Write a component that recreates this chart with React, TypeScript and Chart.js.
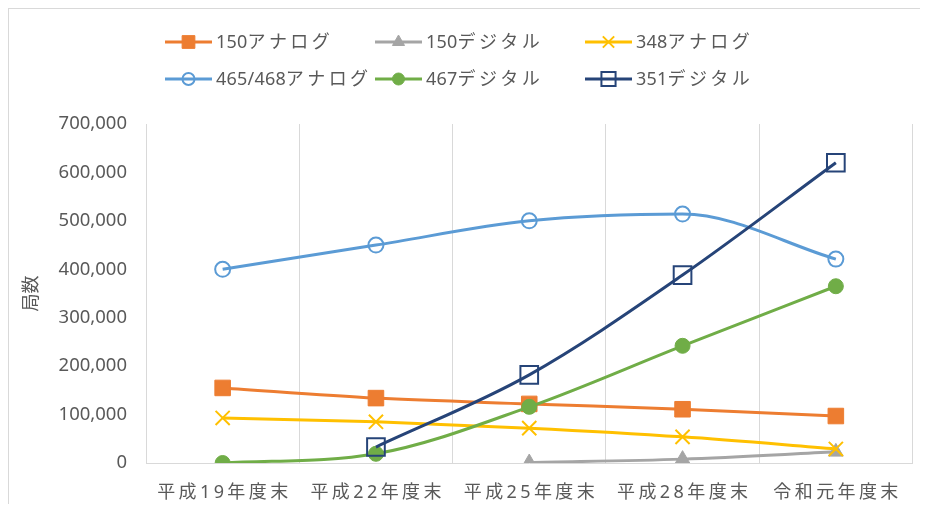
import React, { useEffect, useRef } from 'react';
import { Chart, registerables } from 'chart.js';

Chart.register(...registerables);

const categories = ['平成19年度末', '平成22年度末', '平成25年度末', '平成28年度末', '令和元年度末'];
const seriesNames = ['150アナログ', '150デジタル', '348アナログ', '465/468アナログ', '467デジタル', '351デジタル'];
const analog150 = [155000, 134000, 122000, 111000, 97000];
const digital150 = [null, null, 1000, 8000, 23000];
const analog348 = [93000, 85000, 72000, 54000, 29000];
const analog465 = [400000, 450000, 500000, 514000, 421000];
const digital467 = [0, 19000, 116000, 242000, 365000];
const digital351 = [null, 33000, 182000, 388000, 620000];
const yMin = 0;
const yMax = 700000;
const yStep = 100000;
const yTitle = '局数';

const FONT = '"Noto Sans", "Noto Sans CJK JP", sans-serif';
const TEXT = '#595959';

type Style = { color: string; point: string; radius: number; fill: boolean; legendRadius: number; pw: number };
const styles: Style[] = [
  { color: '#ED7D31', point: 'rect', radius: 11, fill: true, legendRadius: 9, pw: 1 },
  { color: '#A5A5A5', point: 'triangle', radius: 8.5, fill: true, legendRadius: 7, pw: 1 },
  { color: '#FFC000', point: 'crossRot', radius: 10, fill: false, legendRadius: 8, pw: 2 },
  { color: '#5B9BD5', point: 'circle', radius: 7.5, fill: false, legendRadius: 6, pw: 2 },
  { color: '#70AD47', point: 'circle', radius: 7.5, fill: true, legendRadius: 6, pw: 1 },
  { color: '#264478', point: 'rect', radius: 12.5, fill: false, legendRadius: 10, pw: 2 },
];
const seriesData = [analog150, digital150, analog348, analog465, digital467, digital351];

const isCJK = (ch: string) => /[\u3000-\u9fff\uff00-\uffef]/.test(ch);

function drawSpaced(
  ctx: CanvasRenderingContext2D,
  text: string,
  x: number,
  y: number,
  align: 'left' | 'center',
  cjkGap: number,
  otherGap: number
) {
  const chars = Array.from(text);
  const cells = chars.map((ch) => ({ ch, w: ctx.measureText(ch).width, gap: isCJK(ch) ? cjkGap : otherGap }));
  let total = 0;
  cells.forEach((c, i) => {
    total += c.w + (i < cells.length - 1 ? c.gap : 0);
  });
  let cx = align === 'center' ? x - total / 2 : x;
  ctx.save();
  ctx.textAlign = 'left';
  cells.forEach((c) => {
    ctx.fillText(c.ch, cx, y);
    cx += c.w + c.gap;
  });
  ctx.restore();
}

function drawMarker(ctx: CanvasRenderingContext2D, s: Style, x: number, y: number, r: number) {
  ctx.save();
  ctx.strokeStyle = s.color;
  ctx.fillStyle = s.color;
  ctx.lineWidth = s.pw;
  ctx.beginPath();
  if (s.point === 'rect') {
    const h = Math.SQRT1_2 * r;
    ctx.rect(x - h, y - h, 2 * h, 2 * h);
  } else if (s.point === 'triangle') {
    ctx.moveTo(x, y - r);
    ctx.lineTo(x + Math.sin(2 * Math.PI / 3) * r, y + r / 2);
    ctx.lineTo(x - Math.sin(2 * Math.PI / 3) * r, y + r / 2);
    ctx.closePath();
  } else if (s.point === 'crossRot') {
    const o = Math.SQRT1_2 * r;
    ctx.moveTo(x - o, y - o);
    ctx.lineTo(x + o, y + o);
    ctx.moveTo(x + o, y - o);
    ctx.lineTo(x - o, y + o);
  } else {
    ctx.arc(x, y, r, 0, Math.PI * 2);
  }
  if (s.fill) ctx.fill();
  ctx.stroke();
  ctx.restore();
}

const customPlugin = {
  id: 'customText',
  afterDraw(chart: any) {
    const ctx: CanvasRenderingContext2D = chart.ctx;
    // x labels
    const xs = chart.scales.x;
    ctx.save();
    ctx.font = `18px ${FONT}`;
    ctx.fillStyle = TEXT;
    ctx.textBaseline = 'middle';
    categories.forEach((c, i) => {
      drawSpaced(ctx, c, xs.getPixelForValue(i), 484, 'center', 3.4, 3.4);
    });
    ctx.restore();
    // legend
    const cols = [156, 366, 576];
    const rows = [33, 70];
    ctx.save();
    ctx.font = `18px ${FONT}`;
    ctx.textBaseline = 'middle';
    seriesNames.forEach((name, i) => {
      const s = styles[i];
      const x0 = cols[i % 3];
      const y0 = rows[Math.floor(i / 3)];
      ctx.strokeStyle = s.color;
      ctx.lineWidth = 3;
      ctx.beginPath();
      ctx.moveTo(x0, y0);
      ctx.lineTo(x0 + 47, y0);
      ctx.stroke();
      drawMarker(ctx, s, x0 + 23.5, y0, s.legendRadius);
      ctx.fillStyle = TEXT;
      drawSpaced(ctx, name, x0 + 51, y0 + 1, 'left', 3.4, 0.2);
    });
    ctx.restore();
  },
};

export default function App() {
  const ref = useRef<HTMLCanvasElement | null>(null);
  useEffect(() => {
    document.documentElement.style.overflow = 'hidden';
    if (!ref.current) return;
    const chart = new Chart(ref.current, {
      type: 'line',
      data: {
        labels: categories,
        datasets: seriesNames.map((name, i) => {
          const s = styles[i];
          return {
            label: name,
            data: seriesData[i] as any,
            borderColor: s.color,
            backgroundColor: s.color,
            borderWidth: 3,
            cubicInterpolationMode: 'monotone' as const,
            pointStyle: s.point as any,
            pointRadius: s.radius,
            pointHoverRadius: s.radius,
            pointBackgroundColor: s.fill ? s.color : 'rgba(0,0,0,0)',
            pointBorderColor: s.color,
            pointBorderWidth: s.pw,
            order: 5 - i,
            spanGaps: false,
          };
        }),
      },
      options: {
        animation: false,
        responsive: true,
        maintainAspectRatio: false,
        layout: { padding: { top: 115, right: 12, bottom: 41, left: 0 } },
        plugins: { legend: { display: false }, tooltip: { enabled: false } },
        scales: {
          x: {
            offset: true,
            grid: { offset: true, color: '#D9D9D9', lineWidth: 1, drawTicks: false },
            border: { display: true, color: '#D9D9D9', width: 1 },
            ticks: { display: false },
          },
          y: {
            min: yMin,
            max: yMax,
            grid: { display: false, drawTicks: false },
            border: { display: false },
            ticks: {
              stepSize: yStep,
              padding: 19,
              color: TEXT,
              font: { family: FONT, size: 18.5 },
              callback: (v: any) => Number(v).toLocaleString('en-US'),
            },
            title: {
              display: true,
              text: yTitle,
              color: TEXT,
              font: { family: FONT, size: 18 },
              padding: { top: 12, bottom: 0 },
            },
            afterFit: (scale: any) => {
              scale.width = 137;
            },
          },
        },
      },
      plugins: [customPlugin],
    });
    return () => chart.destroy();
  }, []);
  return (
    <div
      style={{
        position: 'relative',
        width: 918,
        height: 495,
        borderLeft: '1px solid #D9D9D9',
        borderTop: '1px solid #D9D9D9',
        background: '#fff',
      }}
    >
      <canvas ref={ref} />
    </div>
  );
}
